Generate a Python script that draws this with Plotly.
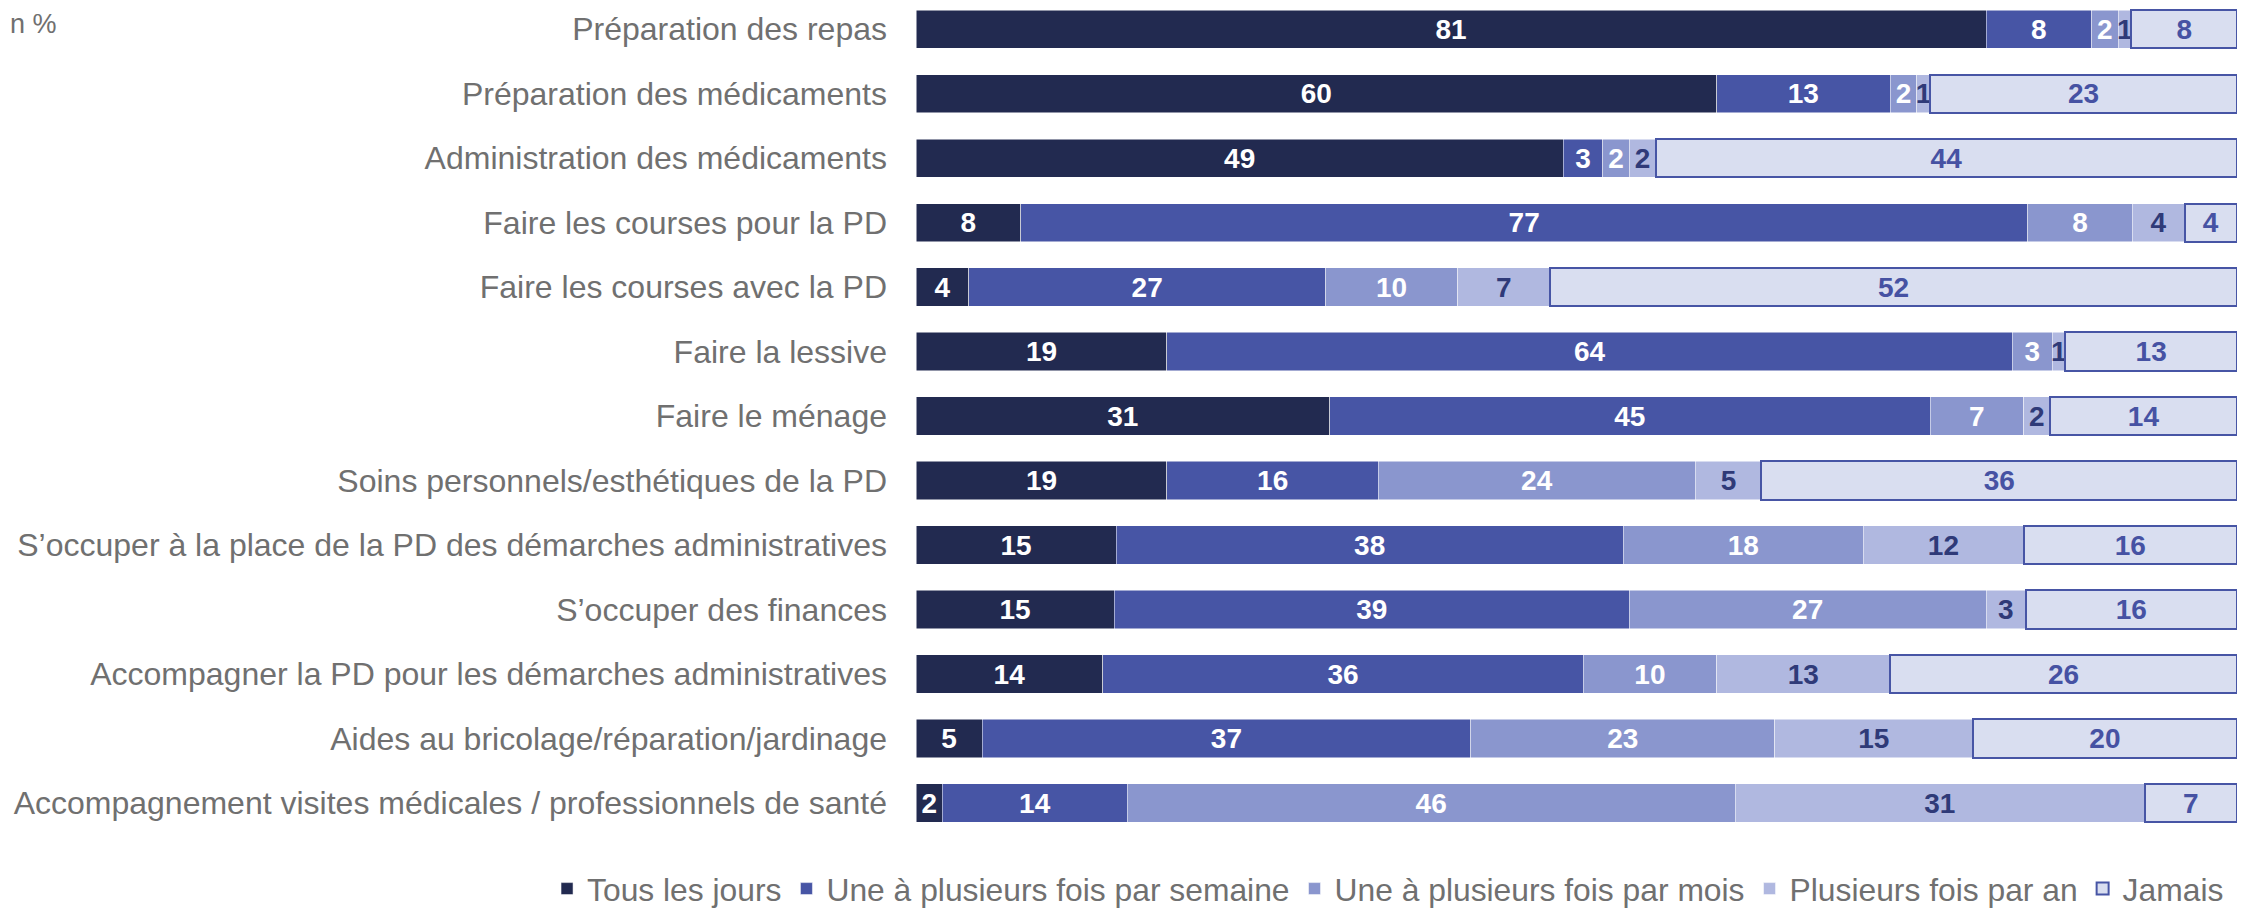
import plotly.graph_objects as go

categories = [
    "Préparation des repas",
    "Préparation des médicaments",
    "Administration des médicaments",
    "Faire les courses pour la PD",
    "Faire les courses avec la PD",
    "Faire la lessive",
    "Faire le ménage",
    "Soins personnels/esthétiques de la PD",
    "S’occuper à la place de la PD des démarches administratives",
    "S’occuper des finances",
    "Accompagner la PD pour les démarches administratives",
    "Aides au bricolage/réparation/jardinage",
    "Accompagnement visites médicales / professionnels de santé",
]

series_names = [
    "Tous les jours",
    "Une à plusieurs fois par semaine",
    "Une à plusieurs fois par mois",
    "Plusieurs fois par an",
    "Jamais",
]

tous_les_jours = [81, 60, 49, 8, 4, 19, 31, 19, 15, 15, 14, 5, 2]
par_semaine = [8, 13, 3, 77, 27, 64, 45, 16, 38, 39, 36, 37, 14]
par_mois = [2, 2, 2, 8, 10, 3, 7, 24, 18, 27, 10, 23, 46]
par_an = [1, 1, 2, 4, 7, 1, 2, 5, 12, 3, 13, 15, 31]
jamais = [8, 23, 44, 4, 52, 13, 14, 36, 16, 16, 26, 20, 7]

values = [tous_les_jours, par_semaine, par_mois, par_an, jamais]
fill_colors = ["#222A50", "#4755A5", "#8A96CE", "#B0B8E0", "#D9DEF0"]
text_colors = ["#FFFFFF", "#FFFFFF", "#FFFFFF", "#2F3A78", "#4652A3"]
line_colors = ["#FFFFFF", "#FFFFFF", "#FFFFFF", "#FFFFFF", "#4755A5"]
line_widths = [0.5, 0.5, 0.5, 0.5, 2]

fig = go.Figure()
for name, vals, fc, tc, lc, lw in zip(series_names, values, fill_colors,
                                      text_colors, line_colors, line_widths):
    fig.add_trace(go.Bar(
        name=name,
        y=categories,
        x=vals,
        orientation="h",
        marker=dict(color=fc, line=dict(color=lc, width=lw)),
        text=[str(v) for v in vals],
        textposition="inside",
        insidetextanchor="middle",
        textangle=0,
        constraintext="none",
        textfont=dict(family="Liberation Sans, Arial, sans-serif", size=28,
                      color=tc, weight="bold"),
        hoverinfo="skip",
    ))

fig.update_layout(
    width=2237,
    height=901,
    barmode="stack",
    barnorm="percent",
    bargap=0.41,
    paper_bgcolor="white",
    plot_bgcolor="white",
    margin=dict(l=908, r=8, t=0, b=66, autoexpand=False),
    font=dict(family="Liberation Sans, Arial, sans-serif", color="#707070"),
    uniformtext=dict(minsize=28, mode="show"),
    xaxis=dict(range=[0, 100], visible=False, showgrid=False, zeroline=False),
    yaxis=dict(
        categoryorder="array",
        categoryarray=categories,
        range=[12.62, -0.326],
        showgrid=False,
        zeroline=False,
        showline=False,
        ticks="",
        ticklabelstandoff=28,
        tickfont=dict(size=32, color="#707070"),
    ),
    showlegend=True,
    legend=dict(
        orientation="h",
        xref="paper",
        yref="paper",
        x=-0.2793,
        xanchor="left",
        y=-0.055,
        yanchor="middle",
        font=dict(size=31.8, color="#707070"),
        traceorder="normal",
        itemclick=False,
        itemwidth=30,
        tracegroupgap=0,
        bgcolor="rgba(0,0,0,0)",
    ),
    annotations=[dict(
        text="n %",
        xref="paper", yref="paper",
        x=-908 / 1321, y=1 - 16 / 835,
        xanchor="left", yanchor="middle",
        showarrow=False,
        font=dict(size=27, color="#707070"),
    )],
)

fig.write_html("out.html")
